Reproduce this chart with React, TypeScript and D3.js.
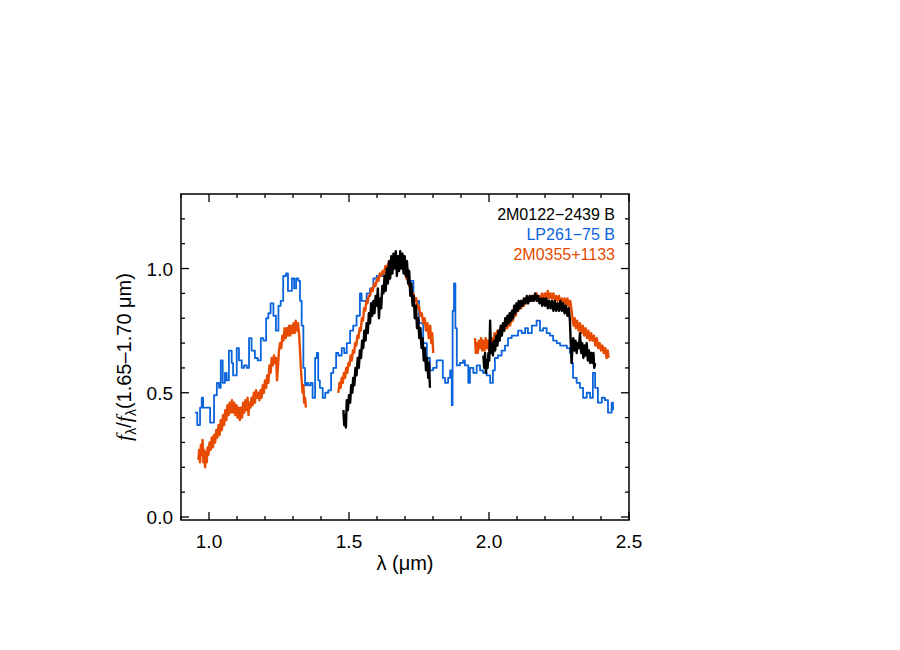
import React, { useRef, useEffect } from "react";
import { select, scaleLinear, line, range, curveStepAfter, curveLinear } from "d3";

// spectra: [wavelength (um), normalised flux]
const lp261: [number, number][] = [
  [0.950, 0.42], [0.958, 0.37], [0.968, 0.44], [0.974, 0.48], [0.979, 0.44], [0.992, 0.44],
  [1.004, 0.38], [1.011, 0.38], [1.018, 0.49], [1.028, 0.54], [1.036, 0.52], [1.042, 0.63],
  [1.049, 0.54], [1.057, 0.58], [1.063, 0.55], [1.071, 0.67], [1.081, 0.62], [1.086, 0.57],
  [1.099, 0.68], [1.107, 0.63], [1.117, 0.60], [1.125, 0.61], [1.135, 0.60], [1.143, 0.72],
  [1.152, 0.67], [1.164, 0.64], [1.174, 0.63], [1.185, 0.72], [1.194, 0.71], [1.204, 0.80],
  [1.212, 0.82], [1.220, 0.86], [1.230, 0.81], [1.239, 0.75], [1.248, 0.85], [1.256, 0.87],
  [1.265, 0.97], [1.275, 0.98], [1.282, 0.91], [1.289, 0.91], [1.296, 0.96], [1.304, 0.92],
  [1.311, 0.96], [1.319, 0.95], [1.325, 0.87], [1.331, 0.77], [1.337, 0.60], [1.343, 0.53],
  [1.349, 0.54], [1.355, 0.53], [1.363, 0.54], [1.370, 0.48], [1.379, 0.64], [1.385, 0.66],
  [1.390, 0.55], [1.396, 0.52], [1.406, 0.48], [1.415, 0.50], [1.426, 0.51], [1.436, 0.58],
  [1.444, 0.60], [1.454, 0.66], [1.462, 0.65], [1.474, 0.68], [1.483, 0.66], [1.492, 0.70],
  [1.504, 0.75], [1.515, 0.77], [1.527, 0.81], [1.539, 0.90], [1.545, 0.87], [1.563, 0.90],
  [1.575, 0.92], [1.587, 0.96], [1.599, 0.97], [1.611, 0.97], [1.622, 0.98], [1.635, 1.00],
  [1.646, 1.03], [1.658, 1.04], [1.670, 1.02], [1.690, 1.00], [1.710, 0.95], [1.730, 0.87],
  [1.750, 0.78], [1.765, 0.70], [1.778, 0.64], [1.789, 0.59], [1.800, 0.60], [1.813, 0.63],
  [1.825, 0.63], [1.835, 0.56], [1.843, 0.54], [1.854, 0.56], [1.861, 0.59], [1.867, 0.45],
  [1.870, 0.83], [1.875, 0.94], [1.880, 0.76], [1.885, 0.61], [1.896, 0.62], [1.908, 0.63],
  [1.914, 0.61], [1.926, 0.54], [1.932, 0.60], [1.944, 0.58], [1.956, 0.61], [1.968, 0.59],
  [1.979, 0.58], [1.992, 0.57], [2.004, 0.54], [2.014, 0.59], [2.021, 0.64], [2.032, 0.65],
  [2.045, 0.67], [2.057, 0.69], [2.068, 0.72], [2.081, 0.73], [2.093, 0.73], [2.104, 0.75],
  [2.117, 0.74], [2.129, 0.76], [2.139, 0.74], [2.153, 0.77], [2.170, 0.79], [2.182, 0.75],
  [2.193, 0.76], [2.206, 0.74], [2.218, 0.73], [2.229, 0.71], [2.242, 0.70], [2.254, 0.69],
  [2.264, 0.69], [2.278, 0.68], [2.289, 0.66], [2.295, 0.62], [2.300, 0.56], [2.313, 0.54],
  [2.325, 0.52], [2.336, 0.48], [2.349, 0.50], [2.361, 0.48], [2.371, 0.58], [2.379, 0.52],
  [2.389, 0.46], [2.403, 0.48], [2.414, 0.47], [2.425, 0.42], [2.438, 0.46], [2.443, 0.43],
];

const m0355J: [number, number][] = [
  [0.962, 0.23], [0.965, 0.27], [0.968, 0.22], [0.971, 0.29], [0.974, 0.25], [0.977, 0.31],
  [0.980, 0.22], [0.983, 0.27], [0.986, 0.20], [0.989, 0.26], [0.992, 0.22], [0.995, 0.28],
  [0.998, 0.25], [1.002, 0.30], [1.006, 0.27], [1.010, 0.32], [1.014, 0.28], [1.018, 0.33],
  [1.022, 0.30], [1.026, 0.35], [1.030, 0.32], [1.034, 0.37], [1.038, 0.33], [1.042, 0.39],
  [1.046, 0.35], [1.050, 0.41], [1.054, 0.37], [1.058, 0.43], [1.062, 0.39], [1.066, 0.45],
  [1.070, 0.41], [1.074, 0.46], [1.078, 0.42], [1.082, 0.47], [1.086, 0.42], [1.090, 0.46],
  [1.094, 0.41], [1.098, 0.45], [1.102, 0.40], [1.106, 0.44], [1.110, 0.39], [1.114, 0.44],
  [1.118, 0.40], [1.122, 0.46], [1.126, 0.42], [1.130, 0.47], [1.134, 0.43], [1.138, 0.48],
  [1.141, 0.41], [1.144, 0.46], [1.148, 0.44], [1.152, 0.48], [1.156, 0.45], [1.160, 0.50],
  [1.164, 0.46], [1.168, 0.51], [1.172, 0.48], [1.176, 0.50], [1.180, 0.47], [1.184, 0.51],
  [1.188, 0.48], [1.192, 0.53], [1.196, 0.50], [1.200, 0.55], [1.204, 0.52], [1.208, 0.57],
  [1.212, 0.54], [1.216, 0.61], [1.220, 0.58], [1.224, 0.64], [1.228, 0.61], [1.232, 0.65],
  [1.236, 0.62], [1.240, 0.64], [1.243, 0.55], [1.246, 0.60], [1.250, 0.67], [1.254, 0.70],
  [1.258, 0.68], [1.262, 0.73], [1.266, 0.71], [1.270, 0.76], [1.274, 0.72], [1.278, 0.76],
  [1.282, 0.73], [1.286, 0.77], [1.290, 0.73], [1.294, 0.77], [1.298, 0.74], [1.302, 0.78],
  [1.306, 0.74], [1.310, 0.79], [1.314, 0.75], [1.318, 0.78], [1.322, 0.73], [1.325, 0.67],
  [1.328, 0.60], [1.331, 0.55], [1.334, 0.50], [1.337, 0.53], [1.340, 0.46], [1.343, 0.48],
  [1.346, 0.44],
];
const m0355H: [number, number][] = [
  [1.462, 0.50], [1.466, 0.54], [1.470, 0.52], [1.474, 0.56], [1.478, 0.54], [1.482, 0.58],
  [1.486, 0.56], [1.490, 0.60], [1.494, 0.58], [1.498, 0.62], [1.502, 0.61], [1.506, 0.65],
  [1.510, 0.63], [1.514, 0.67], [1.518, 0.66], [1.522, 0.70], [1.526, 0.69], [1.530, 0.73],
  [1.534, 0.72], [1.538, 0.76], [1.542, 0.75], [1.546, 0.80], [1.550, 0.79], [1.554, 0.84],
  [1.558, 0.83], [1.562, 0.87], [1.566, 0.86], [1.570, 0.89], [1.575, 0.89], [1.580, 0.92],
  [1.585, 0.91], [1.590, 0.94], [1.595, 0.93], [1.600, 0.96], [1.605, 0.95], [1.610, 0.98],
  [1.615, 0.97], [1.620, 0.99], [1.625, 0.98], [1.630, 1.01], [1.635, 1.00], [1.640, 1.02],
  [1.645, 1.01], [1.650, 1.04], [1.655, 1.02], [1.660, 1.05], [1.665, 1.03], [1.670, 1.05],
  [1.675, 1.03], [1.680, 1.04], [1.685, 1.01], [1.690, 1.02], [1.695, 0.99], [1.700, 0.99],
  [1.705, 0.96], [1.710, 0.96], [1.715, 0.93], [1.720, 0.93], [1.725, 0.90], [1.730, 0.90],
  [1.735, 0.87], [1.740, 0.88], [1.745, 0.84], [1.750, 0.85], [1.755, 0.81], [1.760, 0.82],
  [1.765, 0.78], [1.770, 0.80], [1.775, 0.75], [1.780, 0.78], [1.785, 0.72], [1.790, 0.77],
  [1.794, 0.70], [1.797, 0.74], [1.801, 0.66],
];
const m0355K: [number, number][] = [
  [1.950, 0.72], [1.953, 0.66], [1.956, 0.70], [1.960, 0.66], [1.964, 0.71], [1.968, 0.68],
  [1.972, 0.72], [1.976, 0.67], [1.980, 0.71], [1.984, 0.67], [1.988, 0.72], [1.992, 0.68],
  [1.996, 0.71], [2.000, 0.67], [2.004, 0.70], [2.008, 0.68], [2.012, 0.72], [2.016, 0.70],
  [2.020, 0.74], [2.025, 0.72], [2.030, 0.75], [2.035, 0.73], [2.040, 0.76], [2.045, 0.74],
  [2.050, 0.77], [2.055, 0.75], [2.060, 0.78], [2.065, 0.76], [2.070, 0.79], [2.075, 0.77],
  [2.080, 0.80], [2.085, 0.79], [2.090, 0.82], [2.095, 0.81], [2.100, 0.84], [2.105, 0.83],
  [2.110, 0.86], [2.115, 0.84], [2.120, 0.87], [2.125, 0.85], [2.130, 0.88], [2.135, 0.86],
  [2.140, 0.88], [2.145, 0.87], [2.150, 0.89], [2.155, 0.87], [2.160, 0.89], [2.165, 0.88],
  [2.170, 0.90], [2.175, 0.87], [2.180, 0.89], [2.185, 0.88], [2.190, 0.90], [2.195, 0.87],
  [2.200, 0.90], [2.205, 0.88], [2.210, 0.91], [2.215, 0.88], [2.220, 0.90], [2.225, 0.88],
  [2.230, 0.90], [2.235, 0.87], [2.240, 0.89], [2.245, 0.87], [2.250, 0.89], [2.255, 0.86],
  [2.260, 0.88], [2.265, 0.86], [2.270, 0.88], [2.275, 0.85], [2.280, 0.88], [2.285, 0.85],
  [2.290, 0.87], [2.294, 0.84], [2.298, 0.80], [2.302, 0.77], [2.306, 0.80], [2.310, 0.76],
  [2.315, 0.79], [2.320, 0.75], [2.325, 0.78], [2.330, 0.74], [2.335, 0.77], [2.340, 0.73],
  [2.345, 0.76], [2.350, 0.72], [2.355, 0.75], [2.360, 0.71], [2.365, 0.74], [2.370, 0.71],
  [2.375, 0.73], [2.380, 0.69], [2.385, 0.72], [2.390, 0.68], [2.395, 0.70], [2.400, 0.67],
  [2.405, 0.69], [2.410, 0.66], [2.415, 0.68], [2.420, 0.64], [2.424, 0.67], [2.427, 0.64],
];

const m0122H: [number, number][] = [
  [1.480, 0.43], [1.483, 0.37], [1.486, 0.41], [1.489, 0.36], [1.492, 0.47], [1.496, 0.43],
  [1.500, 0.49], [1.504, 0.46], [1.508, 0.53], [1.512, 0.50], [1.515, 0.56], [1.519, 0.53],
  [1.523, 0.60], [1.527, 0.57], [1.531, 0.64], [1.535, 0.60], [1.539, 0.67], [1.543, 0.64],
  [1.547, 0.71], [1.551, 0.68], [1.555, 0.75], [1.559, 0.71], [1.563, 0.78], [1.567, 0.74],
  [1.571, 0.82], [1.575, 0.78], [1.579, 0.86], [1.583, 0.81], [1.587, 0.87], [1.591, 0.82],
  [1.595, 0.89], [1.599, 0.85], [1.603, 0.92], [1.607, 0.80], [1.611, 0.88], [1.615, 0.84],
  [1.619, 0.93], [1.623, 0.90], [1.627, 0.97], [1.631, 0.91], [1.635, 1.00], [1.639, 0.94],
  [1.643, 1.03], [1.647, 0.96], [1.651, 1.05], [1.655, 0.98], [1.659, 1.06], [1.663, 1.00],
  [1.667, 1.07], [1.671, 0.97], [1.675, 1.05], [1.679, 0.99], [1.683, 1.07], [1.687, 1.00],
  [1.691, 1.06], [1.695, 0.98], [1.699, 1.05], [1.703, 0.97], [1.707, 1.03], [1.711, 0.94],
  [1.715, 0.99], [1.719, 0.89], [1.723, 0.94], [1.727, 0.85], [1.731, 0.89], [1.735, 0.80],
  [1.739, 0.85], [1.743, 0.76], [1.747, 0.80], [1.751, 0.72], [1.755, 0.76], [1.759, 0.68],
  [1.763, 0.72], [1.767, 0.63], [1.771, 0.68], [1.775, 0.59], [1.779, 0.64], [1.783, 0.56],
  [1.786, 0.62], [1.789, 0.52],
];
const m0122K: [number, number][] = [
  [1.980, 0.65], [1.983, 0.60], [1.986, 0.66], [1.989, 0.58], [1.992, 0.63], [1.995, 0.60],
  [1.998, 0.66], [2.001, 0.63], [2.004, 0.79], [2.007, 0.66], [2.010, 0.70], [2.014, 0.65],
  [2.018, 0.71], [2.022, 0.67], [2.026, 0.73], [2.030, 0.69], [2.034, 0.75], [2.038, 0.71],
  [2.042, 0.77], [2.046, 0.73], [2.050, 0.78], [2.054, 0.75], [2.058, 0.80], [2.062, 0.77],
  [2.066, 0.81], [2.070, 0.78], [2.074, 0.82], [2.078, 0.79], [2.082, 0.83], [2.086, 0.80],
  [2.090, 0.85], [2.094, 0.82], [2.098, 0.86], [2.102, 0.83], [2.106, 0.87], [2.110, 0.84],
  [2.115, 0.87], [2.120, 0.85], [2.125, 0.88], [2.130, 0.86], [2.135, 0.89], [2.140, 0.86],
  [2.145, 0.89], [2.150, 0.87], [2.155, 0.89], [2.160, 0.87], [2.165, 0.90], [2.170, 0.87],
  [2.175, 0.89], [2.180, 0.86], [2.185, 0.88], [2.190, 0.85], [2.195, 0.88], [2.200, 0.85],
  [2.205, 0.88], [2.210, 0.84], [2.215, 0.87], [2.220, 0.84], [2.225, 0.87], [2.230, 0.83],
  [2.235, 0.87], [2.240, 0.83], [2.245, 0.86], [2.250, 0.83], [2.255, 0.87], [2.260, 0.83],
  [2.265, 0.86], [2.270, 0.82], [2.275, 0.85], [2.280, 0.81], [2.285, 0.84], [2.289, 0.79],
  [2.292, 0.70], [2.295, 0.62], [2.298, 0.68], [2.301, 0.72], [2.305, 0.67], [2.309, 0.71],
  [2.313, 0.66], [2.317, 0.70], [2.321, 0.68], [2.325, 0.74], [2.329, 0.66], [2.333, 0.70],
  [2.337, 0.64], [2.341, 0.69], [2.345, 0.65], [2.349, 0.70], [2.353, 0.63], [2.357, 0.67],
  [2.361, 0.62], [2.365, 0.66], [2.369, 0.62], [2.373, 0.66], [2.376, 0.60], [2.379, 0.62],
];

const legendNames = ["2M0122\u22122439 B", "LP261\u221275 B", "2M0355+1133"];
const colors = ["#000000", "#0a64dc", "#e64b00"];
const xTicks = [1.0, 1.5, 2.0, 2.5];
const yTicks = [0.0, 0.5, 1.0];

const W = 900;
const H = 650;
const left = 181, right = 629, top = 194, bottom = 520;
const font = "'Liberation Sans', Arial, Helvetica, sans-serif";

export default function App() {
  const svgRef = useRef<SVGSVGElement>(null);

  useEffect(() => {
    const svg = select(svgRef.current);
    svg.selectAll("*").remove();

    const xScale = scaleLinear().domain([0.9, 2.5]).range([left, right]);
    const yScale = scaleLinear().domain([0, 1.3]).range([517, top]);

    // spectra: blue first, then orange, black on top
    const series = [
      { data: lp261, color: colors[1], w: 1.8, step: true },
      { data: m0355J, color: colors[2], w: 2.4, step: false },
      { data: m0355H, color: colors[2], w: 2.4, step: false },
      { data: m0355K, color: colors[2], w: 2.4, step: false },
      { data: m0122H, color: colors[0], w: 2.4, step: false },
      { data: m0122K, color: colors[0], w: 2.4, step: false },
    ];
    svg
      .append("g")
      .selectAll("path")
      .data(series)
      .join("path")
      .attr("fill", "none")
      .attr("stroke", (d) => d.color)
      .attr("stroke-width", (d) => d.w)
      .attr("stroke-linejoin", "round")
      .attr("d", (d) =>
        line<[number, number]>()
          .x((p) => xScale(p[0]))
          .y((p) => yScale(p[1]))
          .curve(d.step ? curveStepAfter : curveLinear)(d.data)
      );

    // frame
    svg
      .append("rect")
      .attr("x", left)
      .attr("y", top)
      .attr("width", right - left)
      .attr("height", bottom - top)
      .attr("fill", "none")
      .attr("stroke", "#000")
      .attr("stroke-width", 1.5);

    const ticks = svg.append("g").attr("stroke", "#000").attr("stroke-width", 1.3);
    const xMinor = range(9, 26).map((v) => v / 10);
    xMinor.forEach((v) => {
      const major = xTicks.some((t) => Math.abs(t - v) < 1e-6);
      const len = major ? 8 : 4;
      const x = xScale(v);
      ticks.append("line").attr("x1", x).attr("x2", x).attr("y1", bottom).attr("y2", bottom - len);
      ticks.append("line").attr("x1", x).attr("x2", x).attr("y1", top).attr("y2", top + len);
    });
    const yMinor = range(0, 13).map((v) => v / 10);
    yMinor.forEach((v) => {
      const major = yTicks.some((t) => Math.abs(t - v) < 1e-6);
      const len = major ? 8 : 4;
      const y = yScale(v);
      ticks.append("line").attr("x1", left).attr("x2", left + len).attr("y1", y).attr("y2", y);
      ticks.append("line").attr("x1", right).attr("x2", right - len).attr("y1", y).attr("y2", y);
    });

    svg
      .append("g")
      .selectAll("text")
      .data(xTicks)
      .join("text")
      .attr("x", (d) => xScale(d))
      .attr("y", bottom + 28)
      .attr("text-anchor", "middle")
      .attr("font-family", font)
      .attr("font-size", 19)
      .text((d) => d.toFixed(1));

    svg
      .append("g")
      .selectAll("text")
      .data(yTicks)
      .join("text")
      .attr("x", left - 8)
      .attr("y", (d) => yScale(d) + 7)
      .attr("text-anchor", "end")
      .attr("font-family", font)
      .attr("font-size", 19)
      .text((d) => d.toFixed(1));

    svg
      .append("text")
      .attr("x", (left + right) / 2)
      .attr("y", bottom + 50)
      .attr("text-anchor", "middle")
      .attr("font-family", font)
      .attr("font-size", 20)
      .text("\u03bb (\u03bcm)");

    const yLab = svg
      .append("text")
      .attr("transform", `translate(131, ${(top + bottom) / 2}) rotate(-90)`)
      .attr("text-anchor", "middle")
      .attr("font-family", font)
      .attr("font-size", 20);
    yLab.append("tspan").attr("font-style", "italic").attr("font-family", "'Liberation Serif', serif").attr("font-size", 22).text("f");
    yLab.append("tspan").attr("font-size", 14).attr("dy", 5).text("\u03bb");
    yLab.append("tspan").attr("dy", -5).text("/");
    yLab.append("tspan").attr("font-style", "italic").attr("font-family", "'Liberation Serif', serif").attr("font-size", 22).text("f");
    yLab.append("tspan").attr("font-size", 14).attr("dy", 5).text("\u03bb");
    yLab.append("tspan").attr("dy", -5).text("(1.65\u20131.70 \u03bcm)");

    svg
      .append("g")
      .selectAll("text")
      .data(legendNames)
      .join("text")
      .attr("x", 615)
      .attr("y", (d, i) => top + 26 + i * 20)
      .attr("text-anchor", "end")
      .attr("font-family", font)
      .attr("font-size", 16)
      .attr("fill", (d, i) => colors[i])
      .text((d) => d);
  }, []);

  return (
    <svg
      ref={svgRef}
      width={W}
      height={H}
      style={{ position: "absolute", left: 0, top: 0, background: "#fff" }}
    />
  );
}
